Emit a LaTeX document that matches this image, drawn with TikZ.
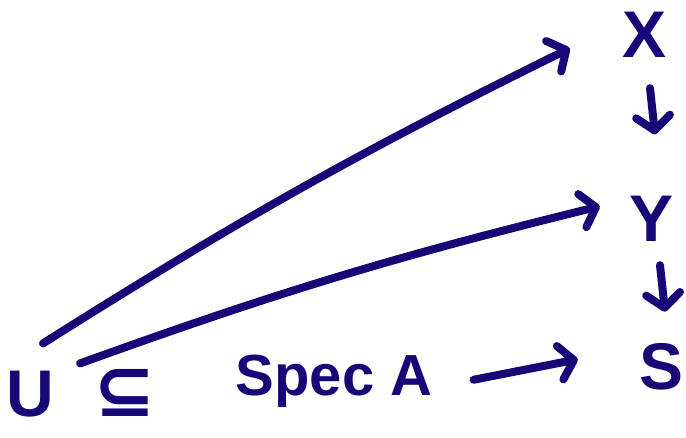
\documentclass[tikz,border=0pt]{standalone}
\usepackage{fontspec}
\setmainfont{Liberation Sans}
\newfontfamily\symfont{DejaVu Sans}
\usetikzlibrary{arrows.meta}
\definecolor{ink}{RGB}{22,8,118}
\begin{document}
\begin{tikzpicture}[x=1pt,y=-1pt,
  lbl/.style={inner sep=0pt,text=ink,font=\bfseries\fontsize{66}{70}\selectfont},
  arr/.style={draw=ink,line width=8pt,line cap=round,line join=round,
    -{Straight Barb[length=14pt,width=34pt,round]}}]
\useasboundingbox (0,0) rectangle (686,438);
\node[lbl,anchor=base] (X) at (645,58) {X};
\node[lbl,anchor=base] (Y) at (652,242) {Y};
\node[lbl,anchor=base] (S) at (662,390) {S};
\node[lbl,anchor=base] (U) at (30,417) {U};
\node[lbl,font=\symfont\bfseries\fontsize{74}{78}\selectfont] (sub) at (125,393) {⊆};
\node[lbl,anchor=base,font=\bfseries\fontsize{58}{64}\selectfont] (spec) at (334,396) {Spec A};
\draw[arr] ([shift={(5,30)}]X.south) -- ([shift={(3,-62)}]Y.north);
\draw[arr] ([shift={(8,23)}]Y.south) -- ([shift={(3,-32)}]S.north);
\draw[arr] ([shift={(41,-2)}]spec.east) -- ([shift={(-62,-8)}]S.west);
\draw[arr] ([shift={(13,-28)}]U.north) to[bend left=3] ([shift={(-53,13)}]X.west);
\draw[arr] ([shift={(26,-8)}]U.north east) to[bend left=3] ([shift={(-30,-13)}]Y.west);
\end{tikzpicture}
\end{document}
